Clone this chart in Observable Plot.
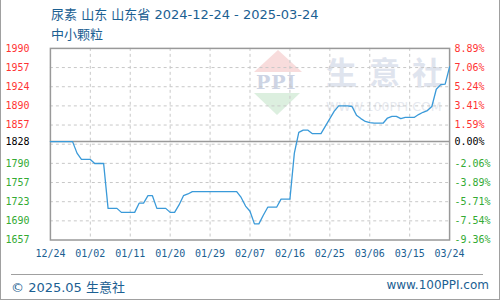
<!DOCTYPE html>
<html><head><meta charset="utf-8">
<script src="https://cdn.jsdelivr.net/npm/d3@7"></script>
<script src="https://cdn.jsdelivr.net/npm/@observablehq/plot@0.6"></script>
<style>
html,body{margin:0;padding:0;background:#fff;}
#wrap{position:relative;width:500px;height:300px;overflow:hidden;box-sizing:border-box;border-left:1px solid #a0a0a0;border-right:1px solid #a0a0a0;border-bottom:1px solid #a0a0a0;font-family:"DejaVu Sans","Noto Sans CJK SC",sans-serif;}
#chart{position:absolute;left:-1px;top:0;}
.t{position:absolute;color:#1b6092;white-space:nowrap;font-size:13px;}
.wm{position:absolute;white-space:nowrap;}
</style></head>
<body><div id="wrap">
<div class="wm" style="left:253px;top:50px;width:0;height:0;border-left:24px solid transparent;border-right:24px solid transparent;border-bottom:22px solid #f8dcdc;"></div>
<div class="wm" style="left:253px;top:93px;width:0;height:0;border-left:23px solid transparent;border-right:23px solid transparent;border-top:22px solid #dcefdf;"></div>
<div class="wm" style="left:255px;top:71px;font:bold 19px 'DejaVu Serif',serif;color:#cdd4e4;letter-spacing:1px;">PPI</div>
<div class="wm" style="left:325px;top:48px;font:bold 31px 'Noto Sans CJK SC';color:#dfe4ee;letter-spacing:12px;">生意社</div>
<div class="wm" style="left:325px;top:99px;font:12.5px 'DejaVu Sans';color:#e6e9ef;letter-spacing:0px;">WWW.100PPI.COM</div>
<div id="chart"></div>
<div class="t" style="left:50px;top:4px;">尿素 山东 山东省 2024-12-24 - 2025-03-24</div>
<div class="t" style="left:50px;top:24px;">中小颗粒</div>
<div style="position:absolute;left:10px;top:274px;width:472px;height:1px;background:#a0a0a0;"></div>
<div class="t" style="left:10px;top:277px;font-size:13px;">© 2025.05 生意社</div>
<div class="t" style="right:10px;top:278px;font-size:12px;">www.100PPI.com</div>
</div>
<script>
const startDate = "2024-12-24";
const prices = [1828,1828,1828,1828,1828,1828,1808,1797,1797,1797,
1790,1790,1790,1712,1712,1712,1705,1705,1705,1705,
1721,1721,1734,1734,1712,1712,1712,1705,1705,1718,
1734,1737,1741,1741,1741,1741,1741,1741,1741,1741,
1741,1741,1741,1731,1716,1707,1685,1685,1700,1714,
1714,1714,1728,1728,1728,1808,1844,1848,1848,1842,
1842,1842,1855,1868,1881,1890,1890,1890,1889,1874,
1868,1863,1861,1860,1860,1860,1869,1872,1872,1868,
1870,1870,1870,1875,1879,1882,1889,1919,1927,1928,1958];
const yTickValues = [1990,1956.7,1923.4,1890.1,1856.8,1828,1790.2,1756.9,1723.6,1690.3,1657];
const yLeftLabels = ["1990","1957","1924","1890","1857","1828","1790","1757","1723","1690","1657"];
const yRightLabels = ["8.89%","7.06%","5.24%","3.41%","1.59%","0.00%","-2.06%","-3.89%","-5.71%","-7.54%","-9.36%"];
const yLabelKind = ["up","up","up","up","up","base","down","down","down","down","down"];
const yGrid = [1956.7,1923.4,1890.1,1856.8,1823.5,1790.2,1756.9,1723.6,1690.3];
const basePrice = 1828;
const xTickLabels = ["12/24","01/02","01/11","01/20","01/29","02/07","02/16","02/25","03/06","03/15","03/24"];
const xTickDates = ["2024-12-24","2025-01-02","2025-01-11","2025-01-20","2025-01-29","2025-02-07","2025-02-16","2025-02-25","2025-03-06","2025-03-15","2025-03-24"];

const t0 = new Date(startDate + "T00:00:00Z");
const series = prices.map((v, i) => ({date: d3.utcDay.offset(t0, i), price: v}));
const xt = xTickDates.map(s => new Date(s + "T00:00:00Z"));
const colorOf = {up: "#ff3333", base: "#000000", down: "#33aa33"};
const idx = d3.range(yTickValues.length);

const chart = Plot.plot({
  width: 500, height: 300,
  marginLeft: 50, marginRight: 50, marginTop: 48, marginBottom: 60,
  x: {type: "utc", domain: [xt[0], xt[xt.length - 1]], axis: null},
  y: {domain: [1657, 1990], axis: null},
  style: {fontFamily: "'DejaVu Sans Mono', monospace", fontSize: "10px", background: "transparent"},
  marks: [
    Plot.ruleY(yGrid, {stroke: "#c8c8c8", strokeDasharray: "3,3", strokeWidth: 1}),
    Plot.ruleX(xt.slice(1, -1), {stroke: "#c8c8c8", strokeDasharray: "3,3", strokeWidth: 1}),
    Plot.ruleY([basePrice], {stroke: "#999999", strokeWidth: 1.5}),
    Plot.frame({stroke: "#999999", strokeWidth: 1.5}),
    Plot.line(series, {x: "date", y: "price", stroke: "#3a9ad9", strokeWidth: 1.3}),
    Plot.text(idx, {y: i => yTickValues[i], text: i => yLeftLabels[i], fill: i => colorOf[yLabelKind[i]], frameAnchor: "left", textAnchor: "start", dx: -45}),
    Plot.text(idx, {y: i => yTickValues[i], text: i => yRightLabels[i], fill: i => colorOf[yLabelKind[i]], frameAnchor: "right", textAnchor: "start", dx: 5}),
    Plot.text(xt, {x: d => d, text: (d, i) => xTickLabels[i], frameAnchor: "bottom", dy: 17, fill: "#1b6092"})
  ]
});
document.getElementById("chart").appendChild(chart);
</script>
</body></html>
